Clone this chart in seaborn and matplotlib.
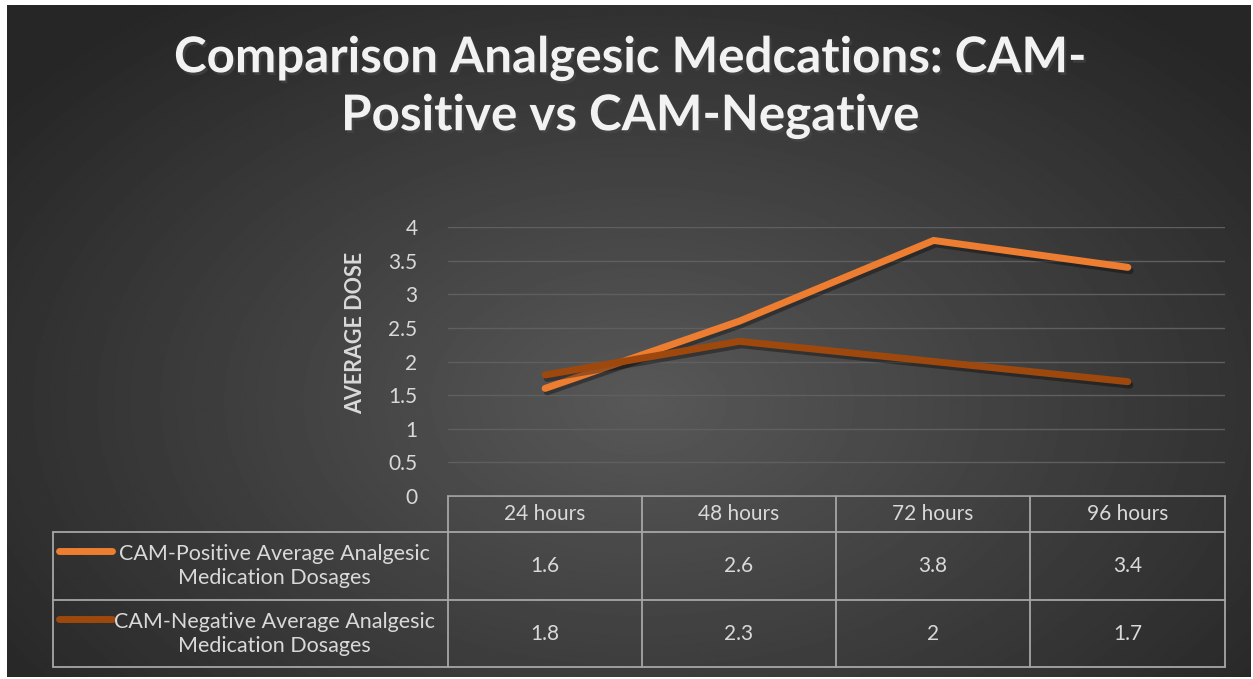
import numpy as np
import pandas as pd
import matplotlib.pyplot as plt
import matplotlib.patheffects as pe
import seaborn as sns

sns.set_theme(style="dark")
plt.rcParams['font.family'] = ['Lato', 'DejaVu Sans']

# donnees
heures = ["24 hours", "48 hours", "72 hours", "96 hours"]
cam_positif = [1.6, 2.6, 3.8, 3.4]
cam_negatif = [1.8, 2.3, 2.0, 1.7]
noms = ["CAM-Positive Average Analgesic\nMedication Dosages",
        "CAM-Negative Average Analgesic\nMedication Dosages"]
couleurs = ["#ED7D31", "#9E480E"]

W, H = 1253, 679
fig = plt.figure(figsize=(W / 100, H / 100), dpi=100, facecolor="white")

# fond degrade radial
bg = fig.add_axes([0, 0, 1, 1])
bg.set_facecolor("white")
yy, xx = np.mgrid[0:H, 0:W]
d = np.sqrt(((xx - 640) / 820) ** 2 + ((yy - 400) / 520) ** 2)
val = np.clip(0.345 - 0.2 * d, 0.15, 0.345)
bg.imshow(val, cmap="gray", vmin=0, vmax=1, aspect="auto", extent=[7, 1251, 677, 5])
bg.set_xlim(0, W)
bg.set_ylim(H, 0)
bg.axis("off")

def fx(px):
    return px / W

def fy(py):
    return 1 - py / H

# axe principal
ax = fig.add_axes([fx(448), fy(496), fx(1225) - fx(448), fy(227) - fy(496)])
ax.set_facecolor("none")
df = pd.DataFrame({
    "heure": list(range(len(heures))) * 2,
    "dose": cam_positif + cam_negatif,
    "serie": [noms[0]] * 4 + [noms[1]] * 4,
})
sns.lineplot(data=df, x="heure", y="dose", hue="serie", palette=couleurs,
             linewidth=5, legend=False, ax=ax, sort=False)
for ln in ax.get_lines():
    ln.set_solid_capstyle("round")
    ln.set_solid_joinstyle("miter")
    ln.set_path_effects([pe.SimpleLineShadow(offset=(1.5, -2.5), alpha=0.35, shadow_color="black"),
                         pe.Normal()])

ax.set_xlim(-0.5, len(heures) - 0.5)
ax.set_ylim(0, 4)
ax.set_yticks(np.arange(0, 4.01, 0.5))
ax.set_yticklabels(["0", "0.5", "1", "1.5", "2", "2.5", "3", "3.5", "4"])
ax.set_xticks([])
ax.tick_params(axis="y", colors="#d9d9d9", labelsize=15, length=0, pad=22)
ax.yaxis.grid(True, color="#5f5f5f", linewidth=1)
ax.xaxis.grid(False)
for s in ax.spines.values():
    s.set_visible(False)
ax.set_xlabel("")
ax.set_ylabel("AVERAGE DOSE", color="#d9d9d9", fontsize=15.5, fontweight="bold")
ax.yaxis.set_label_coords((366 - 448) / 777, (496 - 333) / 269)

# titre
ombre = [pe.withSimplePatchShadow(offset=(1.5, -2), alpha=0.6)]
fig.text(fx(630), fy(58), "Comparison Analgesic Medcations: CAM-", ha="center", va="center",
         color="#f2f2f2", fontsize=35.5, fontweight="bold", path_effects=ombre)
fig.text(fx(630), fy(116), "Positive vs CAM-Negative", ha="center", va="center",
         color="#f2f2f2", fontsize=35.5, fontweight="bold", path_effects=ombre)

# tableau de donnees
lc = "#a6a6a6"
col_x = [448, 642, 836, 1030, 1225]
row_y = [496, 532, 600, 667]

def hline(x0, x1, y):
    bg.plot([x0, x1], [y, y], color=lc, lw=1.3)

def vline(x, y0, y1):
    bg.plot([x, x], [y0, y1], color=lc, lw=1.3)

hline(448, 1225, 496)
hline(53, 1225, 532)
hline(53, 1225, 600)
hline(53, 1225, 667)
for x in col_x:
    vline(x, 496, 667)
vline(53, 532, 667)

for i, h in enumerate(heures):
    cx = (col_x[i] + col_x[i + 1]) / 2
    bg.text(cx, 514, h, ha="center", va="center", color="#d9d9d9", fontsize=15)

for r, (nom, vals, c) in enumerate(zip(noms, [cam_positif, cam_negatif], couleurs)):
    cy = (row_y[r + 1] + row_y[r + 2]) / 2
    bg.plot([59, 112], [cy - 15, cy - 15], color=c, lw=5, solid_capstyle="round")
    bg.text(274, cy, nom, ha="center", va="center", color="#d9d9d9", fontsize=15.5,
            linespacing=1.25)
    for i, v in enumerate(vals):
        cx = (col_x[i] + col_x[i + 1]) / 2
        bg.text(cx, cy, f"{v:g}", ha="center", va="center", color="#d9d9d9", fontsize=15)

fig.savefig("out.png", dpi=100, facecolor="white")
